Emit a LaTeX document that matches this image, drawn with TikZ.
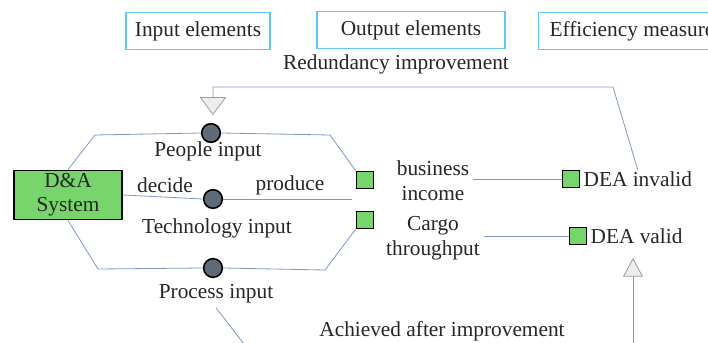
\documentclass[tikz,border=0pt]{standalone}
\usepackage{fontspec}
\setmainfont{Liberation Serif}
\usetikzlibrary{arrows.meta}
\definecolor{headline}{HTML}{62C6EE}
\definecolor{link}{HTML}{7E98C6}
\definecolor{leaf}{HTML}{77D56B}
\definecolor{dot}{HTML}{5E6A78}
\definecolor{tri}{HTML}{EDEDED}
\definecolor{triline}{HTML}{9C9C9C}
\definecolor{ink}{HTML}{262626}

\begin{document}
\begin{tikzpicture}[x=0.75pt, y=-0.75pt, text=ink,
  font=\fontsize{16}{18.5}\selectfont,
  head/.style={draw=headline, line width=0.9pt, minimum height=28pt, inner xsep=5pt},
  dotnode/.style={circle, draw=black, fill=dot, line width=1.2pt, minimum size=14pt, inner sep=0pt},
  sq/.style={draw=black, fill=leaf, line width=1.2pt, minimum size=13pt, inner sep=0pt},
  lbl/.style={inner sep=3pt, align=center},
  link/.style={draw=link, line width=0.6pt},
  fbtip/.style={-{Triangle[width=20pt, length=13.5pt, fill=tri, color=triline]}},
  uptip/.style={-{Triangle[width=15pt, length=14pt, fill=tri, color=triline]}}]
\useasboundingbox (0,0) rectangle (708,343);
\clip (0,0) rectangle (708,343);
\node[head, minimum width=108pt] (inB) at (198,31) {Input elements};
\node[head, minimum width=141pt] (outB) at (411,30) {Output elements};
\node[head, anchor=west, minimum width=140pt] (effB) at (538,31) {Efficiency measure};
\node[lbl] (redund) at (396,64) {Redundancy improvement};
\node[draw=black, fill=leaf, line width=1.2pt, minimum width=81pt, minimum height=37pt,
  align=center, inner sep=0pt, font=\fontsize{16}{18}\selectfont] (sys) at (68,195) {D\&A\\System};
\node[dotnode] (ppl) at (211,133) {};
\node[dotnode] (tech) at (213,199) {};
\node[dotnode] (proc) at (213,268) {};
\node[lbl] (pplL) at (208,151) {People input};
\node[lbl] (techL) at (217,228) {Technology input};
\node[lbl] (procL) at (216,294) {Process input};
\node[lbl] (decide) at (165,185) {decide};
\node[lbl] (produce) at (290,185) {produce};
\node[sq] (inc) at (365,180) {};
\node[sq] (cargo) at (365,220) {};
\node[lbl] (incL) at (433,181) {business\\income};
\node[lbl] (cargoL) at (433,238) {Cargo\\throughput};
\node[sq] (bad) at (571,179) {};
\node[sq] (good) at (578,236) {};
\node[lbl, anchor=west, inner sep=1pt] (badL) at (582,179) {DEA invalid};
\node[lbl, anchor=west, inner sep=1pt] (goodL) at (589,236) {DEA valid};
\node[lbl] (achieved) at (442,331) {Achieved after improvement};
\coordinate (midend) at (352,199);
\coordinate (tipA) at (213,115);
\coordinate (tipB) at (633,258);
\coordinate (upfoot) at (633,350);
\coordinate (downfoot) at (250,352);
\draw[link] (sys.north) -- (95,135) -- (ppl.west);
\draw[link] (ppl.east) -- (330,135) -- (inc.north west);
\draw[link] (sys.east) -- (tech.west);
\draw[link] (tech.east) -- (midend);
\draw[link] (sys.south) -- (98,269) -- (proc.west);
\draw[link] (proc.east) -- (325,270) -- (cargo.south west);
\draw[link] (incL.east |- bad.west) -- (bad.west);
\draw[link] (cargoL.east |- good.west) -- (good.west);
\draw[link, fbtip] (badL.north) -- (613,87) -| (tipA);
\draw[link, uptip] (upfoot) -- (tipB);
\draw[link] (procL.south) -- (downfoot);
\end{tikzpicture}
\end{document}
